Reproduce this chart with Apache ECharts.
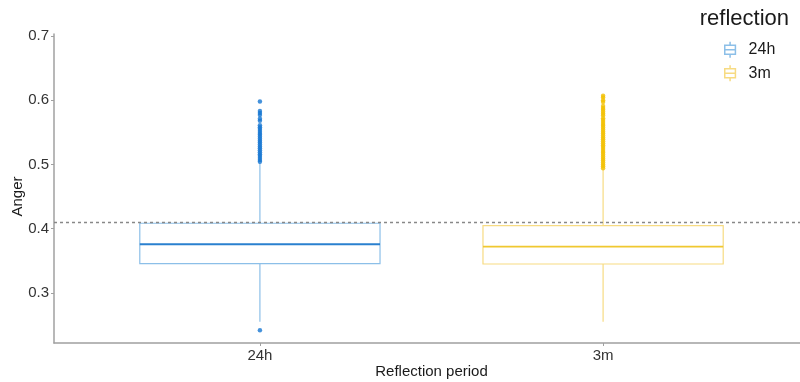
<!DOCTYPE html>
<html><head><meta charset="utf-8">
<script src="https://cdn.jsdelivr.net/npm/echarts@6/dist/echarts.min.js"></script>
<style>html,body{margin:0;padding:0;background:#fff}#c{width:800px;height:382px}</style>
</head><body><div id="c"></div>
<script>
const categories = ['24h', '3m'];
const categoryPos = [1, 2];
// [min, Q1, median, Q3, max]
const box24h = [0.255, 0.3455, 0.3757, 0.4084, 0.502];
const box3m = [0.255, 0.3450, 0.3720, 0.4047, 0.493];
const outliers24h = [0.242, 0.598, 0.583, 0.580, 0.577, 0.571, 0.568, 0.561, 0.558, 0.555, 0.552, 0.549, 0.546, 0.543, 0.540, 0.537, 0.534, 0.531, 0.528, 0.525, 0.522, 0.519, 0.516, 0.513, 0.510, 0.507, 0.504];
const outliers3m = [0.607, 0.604, 0.600, 0.597, 0.591, 0.588, 0.585, 0.582, 0.579, 0.576, 0.572, 0.569, 0.566, 0.563, 0.560, 0.557, 0.554, 0.551, 0.548, 0.545, 0.542, 0.539, 0.536, 0.533, 0.530, 0.527, 0.524, 0.521, 0.518, 0.515, 0.512, 0.509, 0.506, 0.503, 0.500, 0.497, 0.494];
const refLine = 0.4065;
const yTicks = [0.3, 0.4, 0.5, 0.6, 0.7];

const chart = echarts.init(document.getElementById('c'), null, {renderer: 'canvas'});
const font = 'Liberation Sans, Arial, sans-serif';
const icon = 'path://M0,4 L12,4 L12,14 L0,14 Z M0,9 L12,9 M6,0 L6,4 M6,14 L6,18';
const blue = '#1677d2', blueLight = '#8cbfe8', blueMid = '#2a80cf';
const yellow = '#f2c000', yellowLight = '#f7db82', yellowMid = '#f0c830';
const halfWidth = 0.35;

function boxRender(light, mid) {
  return function (params, api) {
    const x = api.value(0);
    const mn = api.value(1), q1 = api.value(2), md = api.value(3), q3 = api.value(4), mx = api.value(5);
    const pl = api.coord([x - halfWidth, q3]);
    const pr = api.coord([x + halfWidth, q1]);
    const c = api.coord([x, md]);
    const pMin = api.coord([x, mn]), pMax = api.coord([x, mx]);
    const pQ1 = api.coord([x, q1]), pQ3 = api.coord([x, q3]);
    return {type: 'group', children: [
      {type: 'line', shape: {x1: pMax[0], y1: pMax[1], x2: pQ3[0], y2: pQ3[1]}, style: {stroke: light, lineWidth: 1.2}},
      {type: 'line', shape: {x1: pQ1[0], y1: pQ1[1], x2: pMin[0], y2: pMin[1]}, style: {stroke: light, lineWidth: 1.2}},
      {type: 'rect', shape: {x: pl[0], y: pl[1], width: pr[0] - pl[0], height: pr[1] - pl[1]}, style: {fill: '#fff', stroke: light, lineWidth: 1.2}},
      {type: 'line', shape: {x1: pl[0], y1: c[1], x2: pr[0], y2: c[1]}, style: {stroke: mid, lineWidth: 1.8}}
    ]};
  };
}

chart.setOption({
  animation: false,
  textStyle: {fontFamily: font},
  title: {text: 'reflection', right: 6, top: 3, textStyle: {fontFamily: font, fontSize: 22, fontWeight: 'normal', color: '#1a1a1a'}},
  legend: {
    orient: 'vertical', left: 719, top: 36, itemGap: 6, itemWidth: 13, itemHeight: 16,
    textStyle: {fontFamily: font, fontSize: 16, color: '#1a1a1a', padding: [0, 0, 0, 7]},
    data: [
      {name: categories[0], icon: icon, itemStyle: {color: '#fff', borderColor: blueLight, borderWidth: 1.5}},
      {name: categories[1], icon: icon, itemStyle: {color: '#fff', borderColor: yellowLight, borderWidth: 1.5}}
    ]
  },
  grid: {left: 54, right: -9, top: 34, bottom: 39, containLabel: false, outerBoundsMode: 'none'},
  xAxis: {
    type: 'value', min: 0.4, max: 2.6,
    name: 'Reflection period', nameLocation: 'middle', nameGap: 21, nameMoveOverlap: false,
    nameTextStyle: {fontFamily: font, fontSize: 15, color: '#1a1a1a'},
    axisLine: {show: true, lineStyle: {color: '#a0a0a0', width: 1.5}},
    axisTick: {show: true, length: 3, lineStyle: {color: '#a0a0a0'}, customValues: categoryPos},
    axisLabel: {fontFamily: font, fontSize: 15, color: '#333', margin: 5, customValues: categoryPos,
      formatter: v => categories[categoryPos.indexOf(v)] || ''},
    splitLine: {show: false}
  },
  yAxis: {
    type: 'value', min: 0.222, max: 0.703,
    name: 'Anger', nameLocation: 'middle', nameGap: 29, nameRotate: 90, nameMoveOverlap: false,
    nameTextStyle: {fontFamily: font, fontSize: 15, color: '#1a1a1a', padding: [0, 16, 0, 0]},
    axisLine: {show: true, lineStyle: {color: '#a0a0a0', width: 1.5}},
    axisTick: {show: true, length: 3, lineStyle: {color: '#a0a0a0'}, customValues: yTicks},
    axisLabel: {fontFamily: font, fontSize: 15, color: '#333', margin: 5, customValues: yTicks, formatter: v => v.toFixed(1)},
    splitLine: {show: false}
  },
  series: [
    {
      name: categories[0], type: 'custom', z: 3,
      itemStyle: {color: '#fff', borderColor: blueLight},
      data: [[categoryPos[0]].concat(box24h)],
      renderItem: boxRender(blueLight, blueMid),
      markLine: {silent: true, symbol: 'none', label: {show: false},
        lineStyle: {color: '#888', type: [3, 3], width: 1.3},
        data: [{yAxis: refLine}]}
    },
    {
      name: categories[1], type: 'custom', z: 3,
      itemStyle: {color: '#fff', borderColor: yellowLight},
      data: [[categoryPos[1]].concat(box3m)],
      renderItem: boxRender(yellowLight, yellowMid)
    },
    {
      name: categories[0], type: 'scatter', symbolSize: 4.5, z: 4,
      itemStyle: {color: blue},
      data: outliers24h.map(v => [categoryPos[0], v])
    },
    {
      name: categories[1], type: 'scatter', symbolSize: 4.5, z: 4,
      itemStyle: {color: yellow},
      data: outliers3m.map(v => [categoryPos[1], v])
    }
  ]
});
</script></body></html>
